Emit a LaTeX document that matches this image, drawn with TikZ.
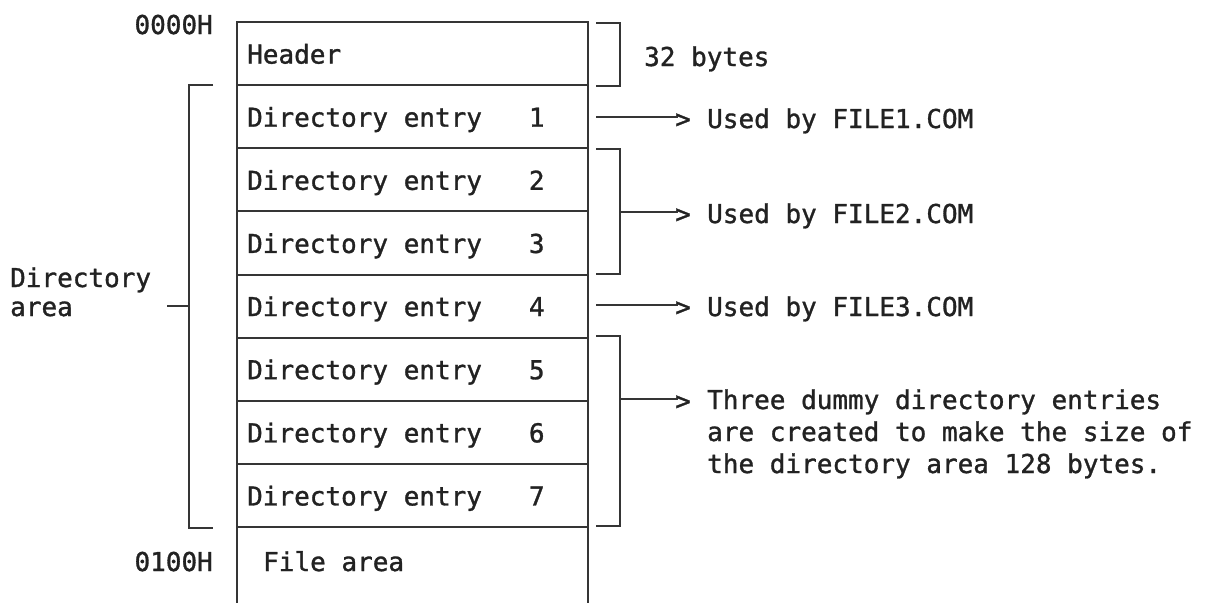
\documentclass[tikz,border=0pt]{standalone}
\usepackage{fontspec}
\setmonofont[FakeBold=1.2]{DejaVu Sans Mono}
\definecolor{lc}{HTML}{353535}
\definecolor{tc}{HTML}{222222}
\begin{document}
\begin{tikzpicture}[x=1pt,y=-1pt,
  ln/.style={line width=2pt, draw=lc},
  row/.style={ln, minimum width=351pt, minimum height=63.125pt, inner sep=0pt, outer sep=0pt, anchor=north west},
  txt/.style={font=\ttfamily\fontsize{26}{32}\selectfont, text=tc, inner sep=0pt, anchor=base west},
  rtxt/.style={txt, anchor=base east}]
\useasboundingbox[fill=white] (0,0) rectangle (1211,603);
% memory rows
\node[row] (r0) at (237,22) {};
\node[row] (r1) at (237,85.125) {};
\node[row] (r2) at (237,148.25) {};
\node[row] (r3) at (237,211.375) {};
\node[row] (r4) at (237,274.5) {};
\node[row] (r5) at (237,337.625) {};
\node[row] (r6) at (237,400.75) {};
\node[row] (r7) at (237,463.875) {};
\coordinate (fbl) at (237,603);
\coordinate (fbr) at (588,603);
\draw[ln] (r7.south west) -- (fbl);
\draw[ln] (r7.south east) -- (fbr);
% row texts
\node[txt] (t0) at ([xshift=10pt,yshift=-10pt]r0.west) {Header};
\node[txt] (t1) at ([xshift=10pt,yshift=-10pt]r1.west) {Directory entry\ \ \ 1};
\node[txt] (t2) at ([xshift=10pt,yshift=-10pt]r2.west) {Directory entry\ \ \ 2};
\node[txt] (t3) at ([xshift=10pt,yshift=-10pt]r3.west) {Directory entry\ \ \ 3};
\node[txt] (t4) at ([xshift=10pt,yshift=-10pt]r4.west) {Directory entry\ \ \ 4};
\node[txt] (t5) at ([xshift=10pt,yshift=-10pt]r5.west) {Directory entry\ \ \ 5};
\node[txt] (t6) at ([xshift=10pt,yshift=-10pt]r6.west) {Directory entry\ \ \ 6};
\node[txt] (t7) at ([xshift=10pt,yshift=-10pt]r7.west) {Directory entry\ \ \ 7};
\node[txt] (fa) at (263,571) {File area};
% addresses
\node[rtxt] (ad0) at (213,34) {0000H};
\node[rtxt] (ad1) at (213,571) {0100H};
% directory area bracket
\node[txt] (da1) at (10,287) {Directory};
\node[txt] (da2) at (10,316) {area};
\draw[ln] (213,85) -- (189,85) -- (189,528) -- (213,528);
\draw[ln] (167,306) -- (189,306);
% right brackets
\draw[ln] (596,23) -- (620,23) -- (620,86) -- (596,86);
\node[txt] (b32) at (644,66) {32 bytes};
\draw[ln] (596,149) -- (620,149) -- (620,274) -- (596,274);
\draw[ln] (596,336) -- (620,336) -- (620,526) -- (596,526);
% arrows and labels
\coordinate (a1) at (596,117);
\coordinate (a2) at (620,212);
\coordinate (a3) at (596,305);
\coordinate (a4) at (620,399);
\node[txt] (g1) at (675,128) {>};
\node[txt] (g2) at (675,223) {>};
\node[txt] (g3) at (675,316) {>};
\node[txt] (g4) at (675,410) {>};
\draw[ln, shorten >=-3pt] (a1) -- (a1 -| g1.west);
\draw[ln, shorten >=-3pt] (a2) -- (a2 -| g2.west);
\draw[ln, shorten >=-3pt] (a3) -- (a3 -| g3.west);
\draw[ln, shorten >=-3pt] (a4) -- (a4 -| g4.west);
\node[txt] (u1) at (707,128) {Used by FILE1.COM};
\node[txt] (u2) at (707,223) {Used by FILE2.COM};
\node[txt] (u3) at (707,316) {Used by FILE3.COM};
\node[txt] (u4a) at (707,409) {Three dummy directory entries};
\node[txt] (u4b) at (707,441) {are created to make the size of};
\node[txt] (u4c) at (707,473) {the directory area 128 bytes.};
\end{tikzpicture}
\end{document}
